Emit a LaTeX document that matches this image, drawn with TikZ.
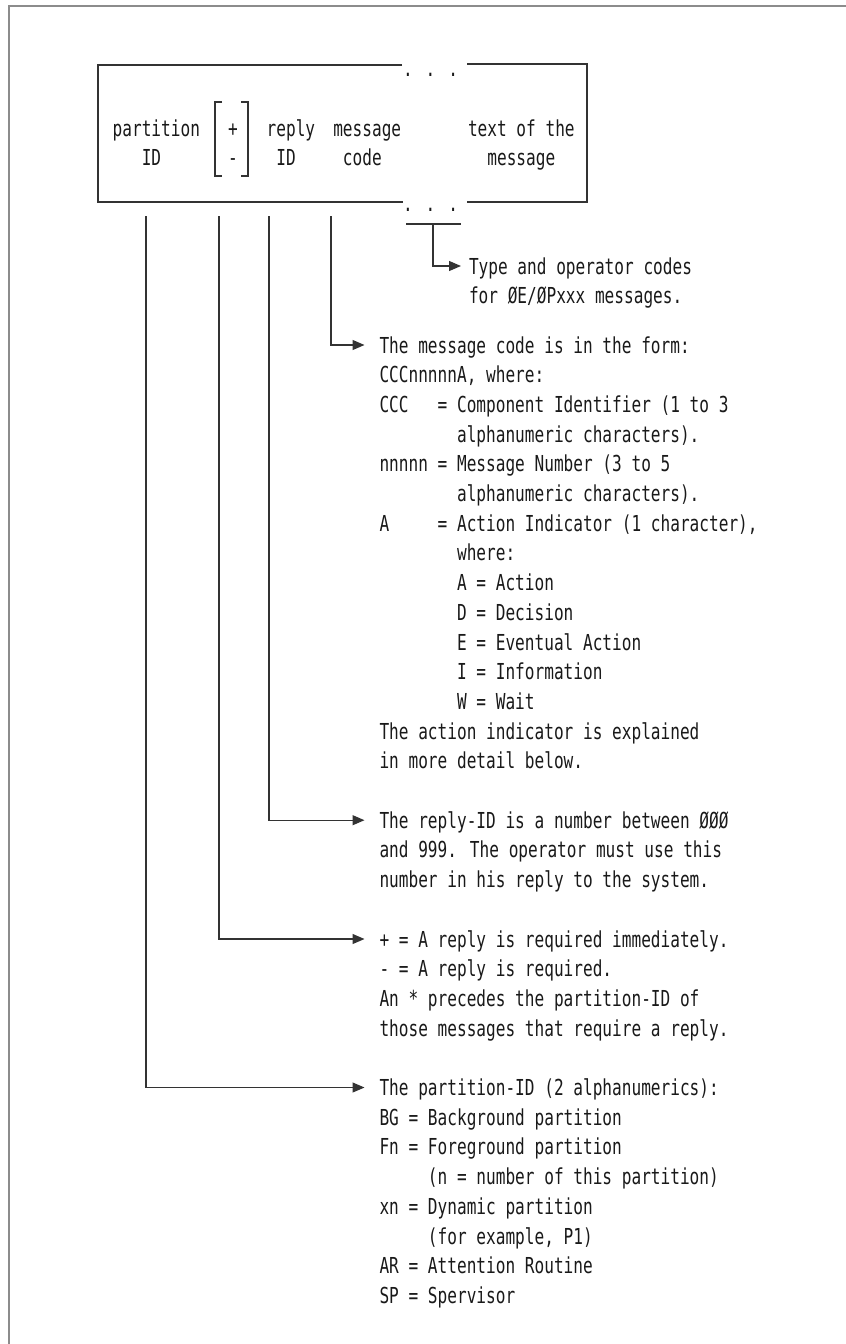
\documentclass[tikz,border=0pt]{standalone}
\usepackage{fontspec}
\newfontfamily\mono[FakeStretch=0.732]{DejaVu Sans Mono}
\usetikzlibrary{arrows.meta}
\newcommand{\ind}[1]{\hphantom{#1}}
\newcommand{\fl}{\rule{0pt}{20pt}}
\begin{document}
\begin{tikzpicture}[x=1pt,y=-1pt,
  txt/.style={font=\mono\fontsize{22}{29.7}\selectfont, text=black!90, inner sep=0pt, outer sep=0pt},
  blk/.style={txt, align=left, anchor=north west},
  ln/.style={line width=1.2pt, draw=black!80},
  arr/.style={ln, -{Triangle[length=12pt,width=10pt]}},
  frm/.style={line width=2pt, draw=black!45},
  ]
\useasboundingbox (0,0) rectangle (846,1344);
\draw[frm] (9,1344) -- (9,5.5) -- (846,5.5);

% message layout box
\draw[ln] (402,65) -- (98,65) -- (98,202) -- (403,202);
\draw[ln] (467,64) -- (587,64) -- (587,202) -- (467,202);
\node[txt, anchor=base] (dtop) at (430.5,76) {. . .};
\node[txt, anchor=base] (dbot) at (430.5,211) {. . .};

\node[blk] (pid) at (112.7,116) {\fl partition\\\ind{xxx}ID};
\node[blk] (pm) at (228,116) {\fl +\\-};
\node[blk] (rid) at (266.7,116) {\fl reply\\\ind{x}ID};
\node[blk] (mcode) at (333.3,116) {\fl message\\\ind{x}code};
\node[blk] (mtext) at (468,116) {\fl text of the\\\ind{xx}message};

% bracket round + / -
\draw[ln] (222,102) -- (215,102) -- (215,176) -- (222,176);
\draw[ln] (241,102) -- (248,102) -- (248,176) -- (241,176);

% explanations
\node[blk] (type) at (469,254) {\fl Type and operator codes\\for ØE/ØPxxx messages.};

\node[blk] (msg) at (379.5,333) {\fl The message code is in the form:\\
CCCnnnnnA, where:\\
CCC\ind{xxx}= Component Identifier (1 to 3\\
\ind{xxxxxxxx}alphanumeric characters).\\
nnnnn = Message Number (3 to 5\\
\ind{xxxxxxxx}alphanumeric characters).\\
A\ind{xxxxx}= Action Indicator (1 character),\\
\ind{xxxxxxxx}where:\\
\ind{xxxxxxxx}A = Action\\
\ind{xxxxxxxx}D = Decision\\
\ind{xxxxxxxx}E = Eventual Action\\
\ind{xxxxxxxx}I = Information\\
\ind{xxxxxxxx}W = Wait\\
The action indicator is explained\\
in more detail below.};

\node[blk] (rep) at (379.5,808.2) {\fl The reply-ID is a number between ØØØ\\
and 999. The operator must use this\\
number in his reply to the system.};

\node[blk] (plus) at (379.5,927) {\fl + = A reply is required immediately.\\
- = A reply is required.\\
An * precedes the partition-ID of\\
those messages that require a reply.};

\node[blk] (part) at (379.5,1075.5) {\fl The partition-ID (2 alphanumerics):\\
BG = Background partition\\
Fn = Foreground partition\\
\ind{xxxxx}(n = number of this partition)\\
xn = Dynamic partition\\
\ind{xxxxx}(for example, P1)\\
AR = Attention Routine\\
SP = Spervisor};

% connectors
\coordinate (c1) at (146,216);
\coordinate (c2) at (219,216);
\coordinate (c3) at (269,216);
\coordinate (c4) at (331,216);
\coordinate (tl) at (406,224);
\coordinate (tr) at (461,224);
\coordinate (tb) at (433,224);
\draw[ln] (tl) -- (tr);
\draw[arr] (tb) |- ([shift={(-8,12)}]type.north west);
\draw[arr] (c4) |- ([shift={(-15,12)}]msg.north west);
\draw[arr] (c3) |- ([shift={(-15,12)}]rep.north west);
\draw[arr] (c2) |- ([shift={(-15,12)}]plus.north west);
\draw[arr] (c1) |- ([shift={(-15,12)}]part.north west);
\end{tikzpicture}
\end{document}
